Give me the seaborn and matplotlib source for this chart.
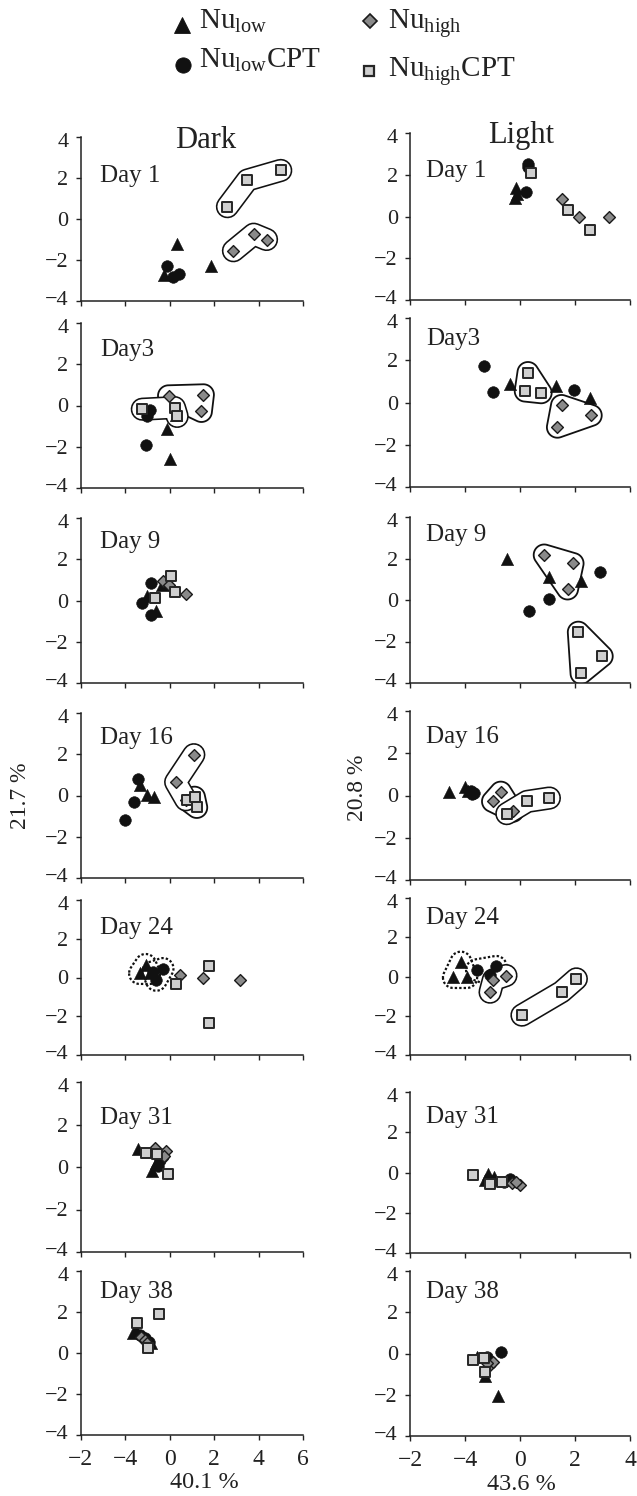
import numpy as np
import matplotlib
matplotlib.use("Agg")
import matplotlib.pyplot as plt
import matplotlib.transforms as mtransforms
import seaborn as sns
from matplotlib.lines import Line2D
from matplotlib.patches import Polygon

sns.set_style("ticks")
plt.rcParams['font.family'] = ['Liberation Serif', 'DejaVu Serif']
plt.rcParams['mathtext.fontset'] = 'custom'
plt.rcParams['mathtext.rm'] = 'Liberation Serif'
plt.rcParams['mathtext.it'] = 'Liberation Serif:italic'
plt.rcParams['mathtext.bf'] = 'Liberation Serif:bold'
plt.rcParams['lines.scale_dashes'] = False
plt.rcParams['axes.unicode_minus'] = True

# ---------------- data ----------------
days = ["Day 1", "Day3", "Day 9", "Day 16", "Day 24", "Day 31", "Day 38"]
conditions = ["Dark", "Light"]
groups = ["Nu_low", "Nu_lowCPT", "Nu_high", "Nu_highCPT"]

# Dark (x = 40.1 %, y = 21.7 %), one list of (x, y) per day
dark_nu_low = [
    [(0.32, -1.2), (1.88, -2.29), (-0.27, -2.75)],
    [(-0.13, -1.13), (0.0, -2.57), (0.3, -0.45)],
    [(-1.01, 0.23), (-0.63, -0.49), (-0.33, 0.76)],
    [(-1.32, 0.52), (-1.01, 0.03), (-0.72, -0.08)],
    [(-1.08, 0.67), (-1.35, 0.21), (-0.9, 0.21)],
    [(-1.42, 0.84), (-0.79, -0.17), (-0.6, 0.2)],
    [(-1.65, 0.96), (-1.5, 1.1), (-0.82, 0.47)],
]
dark_nu_low_cpt = [
    [(-0.14, -2.29), (0.13, -2.83), (0.42, -2.7)],
    [(-0.87, -0.2), (-1.01, -0.53), (-1.05, -1.9)],
    [(-0.83, 0.84), (-1.23, -0.1), (-0.83, -0.71)],
    [(-1.41, 0.81), (-1.59, -0.32), (-1.99, -1.21)],
    [(-0.3, 0.46), (-0.6, -0.14), (-0.75, 0.29)],
    [(-0.45, 0.33), (-0.52, 0.05), (-0.3, 0.5)],
    [(-1.35, 0.88), (-1.12, 0.72), (-0.95, 0.55)],
]
dark_nu_high = [
    [(2.87, -1.55), (3.78, -0.74), (4.36, -1.0)],
    [(-0.05, 0.47), (1.52, 0.52), (1.43, -0.29)],
    [(-0.29, 0.96), (-0.05, 0.76), (0.73, 0.31)],
    [(1.09, 1.98), (0.27, 0.65), (0.73, -0.21)],
    [(0.48, 0.12), (1.5, -0.05), (3.16, -0.14)],
    [(-0.67, 0.89), (-0.18, 0.73), (-0.25, 0.5)],
    [(-1.27, 0.8), (-1.1, 0.65), (-1.0, 0.5)],
]
dark_nu_high_cpt = [
    [(2.6, 0.6), (3.5, 1.9), (5.0, 2.37)],
    [(-1.23, -0.18), (0.22, -0.1), (0.34, -0.53)],
    [(-0.68, 0.12), (0.05, 1.17), (0.22, 0.39)],
    [(0.8, -0.24), (1.12, -0.08), (1.22, -0.58)],
    [(0.27, -0.31), (1.77, 0.6), (1.77, -2.36)],
    [(-1.08, 0.65), (-0.08, -0.33), (-0.55, 0.6)],
    [(-0.48, 1.9), (-1.45, 1.48), (-0.97, 0.23)],
]

# Light (x = 43.6 %, y = 20.8 %)
light_nu_low = [
    [(-0.15, 1.35), (-0.18, 0.9), (-0.1, 1.1)],
    [(-0.37, 0.87), (1.32, 0.76), (2.56, 0.21)],
    [(-0.48, 1.96), (1.05, 1.09), (2.22, 0.92)],
    [(-2.59, 0.16), (-2.01, 0.4), (-1.9, 0.2)],
    [(-2.15, 0.73), (-2.42, -0.05), (-1.94, -0.05)],
    [(-1.15, -0.05), (-1.27, -0.35), (-0.95, -0.2)],
    [(-0.81, -2.05), (-1.28, -1.1), (-1.57, -0.15)],
]
light_nu_low_cpt = [
    [(0.29, 2.5), (0.3, 2.35), (0.23, 1.15)],
    [(-1.32, 1.74), (-1.0, 0.52), (1.96, 0.59)],
    [(2.9, 1.35), (1.05, 0.05), (0.32, -0.53)],
    [(-1.69, 0.11), (-1.8, 0.2), (-1.75, 0.05)],
    [(-1.58, 0.34), (-0.87, 0.51), (-1.09, 0.09)],
    [(-0.97, -0.4), (-0.36, -0.3), (-0.6, -0.45)],
    [(-0.69, 0.08), (-1.2, -0.16), (-1.06, -0.42)],
]
light_nu_high = [
    [(1.51, 0.86), (2.15, -0.02), (3.22, 0.0)],
    [(1.51, -0.14), (2.59, -0.61), (1.36, -1.17)],
    [(0.88, 2.17), (1.93, 1.76), (1.73, 0.53)],
    [(-0.7, 0.16), (-1.0, -0.28), (-0.26, -0.75)],
    [(-1.09, -0.8), (-0.97, -0.17), (-0.51, 0.05)],
    [(-0.3, -0.5), (0.0, -0.6), (-0.15, -0.45)],
    [(-1.13, -0.6), (-1.0, -0.4), (-1.2, -0.45)],
]
light_nu_high_cpt = [
    [(0.4, 2.07), (1.74, 0.3), (2.56, -0.67)],
    [(0.29, 1.42), (0.19, 0.54), (0.77, 0.46)],
    [(2.12, -1.55), (2.99, -2.71), (2.22, -3.54)],
    [(-0.48, -0.86), (0.26, -0.28), (1.07, -0.12)],
    [(0.07, -1.97), (1.51, -0.78), (2.05, -0.12)],
    [(-1.7, -0.12), (-1.09, -0.55), (-0.67, -0.45)],
    [(-1.72, -0.32), (-1.32, -0.24), (-1.28, -0.89)],
]

# encircled groups: (condition, day index, group, closed outline?, dotted?)
hulls = [
    ("Dark", 0, "Nu_highCPT", False, False),
    ("Dark", 0, "Nu_high", False, False),
    ("Dark", 1, "Nu_highCPT", False, False),
    ("Dark", 1, "Nu_high", True, False),
    ("Light", 1, "Nu_highCPT", True, False),
    ("Light", 1, "Nu_high", True, False),
    ("Light", 2, "Nu_high", True, False),
    ("Light", 2, "Nu_highCPT", True, False),
    ("Dark", 3, "Nu_high", False, False),
    ("Dark", 3, "Nu_highCPT", True, False),
    ("Light", 3, "Nu_high", True, False),
    ("Light", 3, "Nu_highCPT", False, False),
    ("Dark", 4, "Nu_low", True, True),
    ("Dark", 4, "Nu_lowCPT", True, True),
    ("Light", 4, "Nu_low", True, True),
    ("Light", 4, "Nu_lowCPT", True, True),
    ("Light", 4, "Nu_high", False, False),
    ("Light", 4, "Nu_highCPT", False, False),
]

y_ticks = [-4, -2, 0, 2, 4]
y_ticklabels = ["\u22124", "\u22122", "0", "2", "4"]
dark_xticks = [-4, -2, 0, 2, 4, 6]
dark_xticklabels = ["\u22122", "\u22124", "0", "2", "4", "6"]
light_xticks = [-4, -2, 0, 2, 4]
light_xticklabels = ["\u22122", "\u22124", "0", "2", "4"]
x_axis_labels = {"Dark": "40.1 %", "Light": "43.6 %"}
y_axis_labels = {"Dark": "21.7 %", "Light": "20.8 %"}
legend_labels = {
    "Nu_low": r"Nu$_{\mathregular{low}}$",
    "Nu_lowCPT": r"Nu$_{\mathregular{low}}$CPT",
    "Nu_high": r"Nu$_{\mathregular{high}}$",
    "Nu_highCPT": r"Nu$_{\mathregular{high}}$CPT",
}

data = {
    "Dark": {"Nu_low": dark_nu_low, "Nu_lowCPT": dark_nu_low_cpt,
             "Nu_high": dark_nu_high, "Nu_highCPT": dark_nu_high_cpt},
    "Light": {"Nu_low": light_nu_low, "Nu_lowCPT": light_nu_low_cpt,
              "Nu_high": light_nu_high, "Nu_highCPT": light_nu_high_cpt},
}

# ---------------- styles ----------------
W, H = 637, 1496
style = {
    "Nu_low": dict(marker="^", s=78, color="#111111", edgecolor="#111111", linewidth=0.4, zorder=3.0),
    "Nu_lowCPT": dict(marker="o", s=70, color="#111111", edgecolor="#111111", linewidth=0.4, zorder=3.1),
    "Nu_high": dict(marker="D", s=36, color="#8a8a8a", edgecolor="#1a1a1a", linewidth=1.0, zorder=3.2),
    "Nu_highCPT": dict(marker="s", s=50, color="#cfcfcf", edgecolor="#262626", linewidth=1.4, zorder=3.3),
}
draw_order = ["Nu_low", "Nu_lowCPT", "Nu_high", "Nu_highCPT"]

col_x = {"Dark": (80.7, 303.0), "Light": (410.0, 630.0)}
rows_y = {
    "Dark": [(137, 301), (323, 488), (518, 683), (713, 878), (900, 1055), (1082, 1252), (1271, 1435)],
    "Light": [(133, 300), (318, 487), (517, 683), (711, 880), (898, 1055), (1092, 1253), (1271, 1436)],
}
day_label_y = {
    "Dark": [176, 350, 542, 738, 928, 1118, 1292],
    "Light": [171, 339, 535, 737, 918, 1117, 1292],
}
day_label_x = {"Dark": 100, "Light": 426}

fig = plt.figure(figsize=(W / 100, H / 100), dpi=100)


def fx(px):
    return px / W


def fy(py):
    return 1 - py / H


R = 10.5  # hull radius in pixels
axes = {}
for cond in conditions:
    x0, x1 = col_x[cond]
    for i, day in enumerate(days):
        y0, y1 = rows_y[cond][i]
        ax = fig.add_axes([fx(x0), fy(y1), (x1 - x0) / W, (y1 - y0) / H])
        axes[(cond, i)] = ax
        if cond == "Dark":
            ax.set_xlim(-4, 6)
            ax.set_xticks(dark_xticks)
            ax.set_xticklabels(dark_xticklabels if i == len(days) - 1 else [])
        else:
            ax.set_xlim(-4, 4)
            ax.set_xticks(light_xticks)
            ax.set_xticklabels(light_xticklabels if i == len(days) - 1 else [])
        ax.set_ylim(-4, 4)
        ax.set_yticks(y_ticks)
        ax.set_yticklabels(y_ticklabels)
        sns.despine(ax=ax)
        for sp in ("left", "bottom"):
            ax.spines[sp].set_color("#222222")
            ax.spines[sp].set_linewidth(1.1)
        ax.tick_params(axis="both", direction="out", length=3.8, width=1.0,
                       color="#222222", labelcolor="#222222")
        ax.tick_params(axis="y", pad=5, labelsize=16)
        ax.tick_params(axis="x", pad=6, labelsize=17)
        ax.set_facecolor("none")
        for g in draw_order:
            pts = data[cond][g][i]
            xs = [p[0] for p in pts]
            ys = [p[1] for p in pts]
            sns.scatterplot(x=xs, y=ys, ax=ax, legend=False, clip_on=False, **style[g])
        ax.set_xlabel("")
        ax.set_ylabel("")
        # nudge the extreme y tick labels apart so neighbouring panels do not collide
        ylabels = ax.get_yticklabels()
        up = mtransforms.ScaledTranslation(0, 2.5 / 72, fig.dpi_scale_trans)
        down = mtransforms.ScaledTranslation(0, -2.5 / 72, fig.dpi_scale_trans)
        ylabels[0].set_transform(ylabels[0].get_transform() + up)
        ylabels[-1].set_transform(ylabels[-1].get_transform() + down)
        fig.text(fx(day_label_x[cond]), fy(day_label_y[cond][i]), day,
                 ha="left", va="center", fontsize=18, color="#222222")


def convex_hull(points):
    pts = sorted(set(points))

    def cross(o, a, b):
        return (a[0] - o[0]) * (b[1] - o[1]) - (a[1] - o[1]) * (b[0] - o[0])

    lower = []
    for p in pts:
        while len(lower) >= 2 and cross(lower[-2], lower[-1], p) <= 0:
            lower.pop()
        lower.append(p)
    upper = []
    for p in reversed(pts):
        while len(upper) >= 2 and cross(upper[-2], upper[-1], p) <= 0:
            upper.pop()
        upper.append(p)
    return lower[:-1] + upper[:-1]


theta = np.linspace(0, 2 * np.pi, 72, endpoint=False)
px2pt = 72 / 100
for cond, i, g, closed, dotted in hulls:
    ax = axes[(cond, i)]
    pts = np.array(data[cond][g][i], dtype=float)
    if closed:
        disp = ax.transData.transform(pts)
        ring = (disp[:, None, :] + R * np.stack([np.cos(theta), np.sin(theta)], axis=1)[None]).reshape(-1, 2)
        hull = np.array(convex_hull([tuple(p) for p in ring]))
        back = ax.transData.inverted().transform(hull)
        ls = (0, (1.7, 1.5)) if dotted else "-"
        lw = 1.6 if dotted else 1.3
        ax.add_patch(Polygon(back, closed=True, fill=False, edgecolor="#111111",
                             linewidth=lw, linestyle=ls, zorder=2.0, joinstyle="round"))
    else:
        ax.plot(pts[:, 0], pts[:, 1], color="#111111", lw=(2 * R + 2.2) * px2pt,
                solid_capstyle="round", solid_joinstyle="round", zorder=2.2)
        ax.plot(pts[:, 0], pts[:, 1], color="white", lw=(2 * R - 1.0) * px2pt,
                solid_capstyle="round", solid_joinstyle="round", zorder=2.3)

# titles and axis labels
fig.text(fx(206), fy(140), "Dark", ha="center", va="center", fontsize=22, color="#222222")
fig.text(fx(521), fy(135), "Light", ha="center", va="center", fontsize=22, color="#222222")
fig.text(fx(21), fy(796), y_axis_labels["Dark"], rotation=90, ha="center", va="center",
         fontsize=17, color="#222222")
fig.text(fx(357.6), fy(788), y_axis_labels["Light"], rotation=90, ha="center", va="center",
         fontsize=17, color="#222222")
fig.text(fx(204), fy(1482), x_axis_labels["Dark"], ha="center", va="center", fontsize=17.5, color="#222222")
fig.text(fx(521), fy(1484), x_axis_labels["Light"], ha="center", va="center", fontsize=17.5, color="#222222")

# legend
legend_items = [
    ("Nu_low", (182, 25), (199, 29), 11.5),
    ("Nu_lowCPT", (183, 65), (199, 68), 11.0),
    ("Nu_high", (369.5, 21), (388, 28.5), 7.2),
    ("Nu_highCPT", (368.5, 71), (388, 77), 7.6),
]
for g, (mx, my), (tx, ty), ms in legend_items:
    st = style[g]
    fig.add_artist(Line2D([fx(mx)], [fy(my)], transform=fig.transFigure, marker=st["marker"],
                          markersize=ms, markerfacecolor=st["color"], markeredgecolor=st["edgecolor"],
                          markeredgewidth=st["linewidth"] + 0.2, linestyle="none"))
    fig.text(fx(tx), fy(ty), legend_labels[g], ha="left", va="baseline", fontsize=21, color="#222222")

fig.savefig("out.png", dpi=100)
